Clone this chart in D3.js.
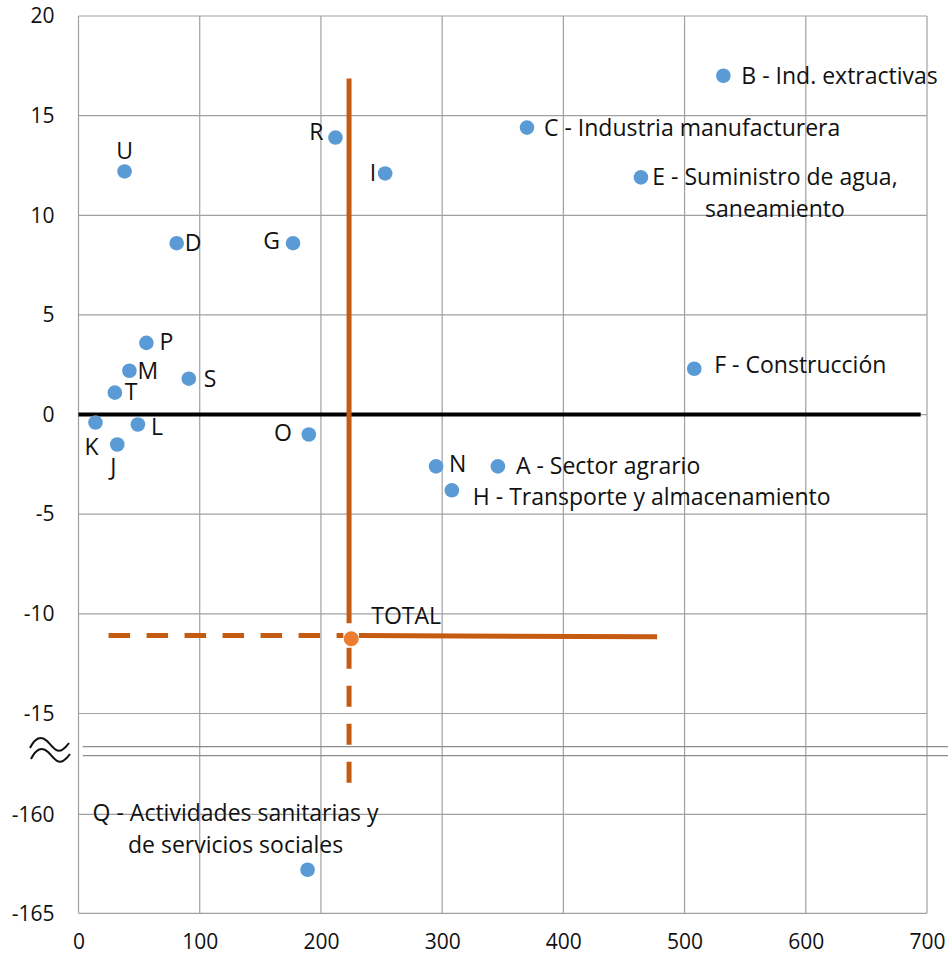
<!DOCTYPE html>
<html>
<head>
<meta charset="utf-8">
<title>Sectores - dispersión</title>
<style>
  body { margin: 0; background: #fff; }
  svg text { font-family: "Open Sans", Lato, sans-serif; fill: #111; }
  .tick text { font-size: 21px; }
  .lbl { font-size: 23px; }
</style>
</head>
<body>
<svg id="chart"></svg>
<script src="https://cdn.jsdelivr.net/npm/d3@7/dist/d3.min.js"></script>
<script>
// sector data (x, y)
var codes = ["A","B","C","D","E","F","G","H","I","J","K","L","M","N","O","P","Q","R","S","T","U"];
var names = [
  ["A - Sector agrario"],
  ["B - Ind. extractivas"],
  ["C - Industria manufacturera"],
  ["D"],
  ["E - Suministro de agua,", "saneamiento"],
  ["F - Construcción"],
  ["G"],
  ["H - Transporte y almacenamiento"],
  ["I"], ["J"], ["K"], ["L"], ["M"], ["N"], ["O"], ["P"],
  ["Q - Actividades sanitarias y", "de servicios sociales"],
  ["R"], ["S"], ["T"], ["U"]
];
var xVals = [346, 532, 370, 81, 464, 508, 177, 308, 253, 32, 14, 49, 42, 295, 190, 56, 189, 212, 91, 30, 38];
var yVals = [-2.6, 17.0, 14.4, 8.6, 11.9, 2.3, 8.6, -3.8, 12.1, -1.5, -0.4, -0.5, 2.2, -2.6, -1.0, 3.6, -162.8, 13.9, 1.8, 1.1, 12.2];

var totalX = 225, totalY = -11.25;
// average reference lines
var avgX = 223.2, avgY = -11.09;

var xTicks = [0, 100, 200, 300, 400, 500, 600, 700];
var yTicksTop = [20, 15, 10, 5, 0, -5, -10, -15];
var yTicksBottom = [-160, -165];

// label placement (dx, dy in px, anchor) - style only
var place = {
  A: [18, 0, "start"], B: [18, 0, "start"], C: [17, 0, "start"], D: [8, 0, "start"],
  E: [134, 0, "middle"], F: [20, -4, "start"], G: [-13, -2, "end"], H: [21, 7, "start"],
  I: [-9, 0, "end"], J: [-4, 22, "middle"], K: [3, 24, "end"], L: [13, 2, "start"],
  M: [8, 0, "start"], N: [13, -2, "start"], O: [-17, -2, "end"], P: [13, -1, "start"],
  Q: [-72, -57, "middle"], R: [-12, -6, "end"], S: [15, 0, "start"], T: [10, -1, "start"],
  U: [0, -20, "middle"]
};

var W = 948, H = 962;
var plotL = 78.5, plotR = 927, plotT = 16;
var breakA = 746.7, breakB = 755.7, plotB = 913.3;

var svg = d3.select("#chart").attr("width", W).attr("height", H);

var x = d3.scaleLinear().domain([0, 700]).range([plotL, plotR]);
var yTop = d3.scaleLinear().domain([20, -15]).range([plotT, 713.5]);
var yBot = d3.scaleLinear().domain([-160, -165]).range([814.3, plotB]);
function yy(v) { return v < -100 ? yBot(v) : yTop(v); }

var grid = svg.append("g").attr("stroke", "#a0a0a0").attr("stroke-width", 1.2);

// vertical gridlines
grid.selectAll(".vg").data(xTicks).enter().append("line")
  .attr("x1", d => x(d)).attr("x2", d => x(d))
  .attr("y1", plotT).attr("y2", plotB);

// horizontal gridlines
grid.selectAll(".hg").data(yTicksTop).enter().append("line")
  .attr("x1", plotL).attr("x2", plotR)
  .attr("y1", d => yTop(d)).attr("y2", d => yTop(d));
grid.selectAll(".hgb").data(yTicksBottom).enter().append("line")
  .attr("x1", plotL).attr("x2", plotR)
  .attr("y1", d => yBot(d)).attr("y2", d => yBot(d));

// axis break
svg.append("g").attr("stroke", "#8c8c8c").attr("stroke-width", 1.3)
  .selectAll("line").data([breakA, breakB]).enter().append("line")
  .attr("x1", 82.7).attr("x2", W).attr("y1", d => d).attr("y2", d => d);

var squig = svg.append("g").attr("fill", "none").attr("stroke", "#111").attr("stroke-width", 2);
squig.append("path").attr("d", "M30,748 C35,738 41,735 47,741 C52,746 56,753 62,750 C65,748 67,746 69,743");
squig.append("path").attr("d", "M31,759 C36,749 42,746 48,752 C53,757 57,764 63,761 C66,759 68,757 70,754");

// axes (labels only)
var fmt = d => String(d);
var yAxisTop = d3.axisLeft(yTop).tickValues(yTicksTop).tickFormat(fmt).tickSize(0).tickPadding(24);
var yAxisBot = d3.axisLeft(yBot).tickValues(yTicksBottom).tickFormat(fmt).tickSize(0).tickPadding(24);
var xAxis = d3.axisBottom(x).tickValues(xTicks).tickFormat(fmt).tickSize(0).tickPadding(21);

[svg.append("g").attr("transform", "translate(" + plotL + ",0)").call(yAxisTop),
 svg.append("g").attr("transform", "translate(" + plotL + ",0)").call(yAxisBot),
 svg.append("g").attr("transform", "translate(0," + plotB + ")").call(xAxis)]
  .forEach(g => { g.select(".domain").remove(); g.selectAll("text").attr("fill", "#111"); });

// zero line
svg.append("line")
  .attr("x1", plotL).attr("x2", 920.7)
  .attr("y1", yTop(0)).attr("y2", yTop(0))
  .attr("stroke", "#000").attr("stroke-width", 4);

// reference lines through TOTAL
var orange = "#c55a11";
var ref = svg.append("g").attr("stroke", orange).attr("stroke-width", 5).attr("fill", "none");
ref.append("line")
  .attr("x1", x(avgX)).attr("x2", x(avgX))
  .attr("y1", yTop(16.86)).attr("y2", yTop(-10.47));
ref.append("line")
  .attr("x1", x(avgX)).attr("x2", x(avgX))
  .attr("y1", yTop(-11.7)).attr("y2", yBot(-158.42))
  .attr("stroke-dasharray", "21,17");
ref.append("line")
  .attr("x1", x(24.8)).attr("x2", x(218.5))
  .attr("y1", yTop(avgY)).attr("y2", yTop(avgY))
  .attr("stroke-dasharray", "21.5,16.5");
ref.append("line")
  .attr("x1", x(231.4)).attr("x2", x(477.3))
  .attr("y1", yTop(avgY)).attr("y2", yTop(-11.15));

// points
var pts = codes.map((c, i) => ({ code: c, name: names[i], x: xVals[i], y: yVals[i] }));

svg.append("g").selectAll("circle").data(pts).enter().append("circle")
  .attr("cx", d => x(d.x)).attr("cy", d => yy(d.y))
  .attr("r", 7.3).attr("fill", "#5b9bd5");

svg.append("circle")
  .attr("cx", x(totalX)).attr("cy", yTop(totalY))
  .attr("r", 7.5).attr("fill", "#ed7d31");

// labels
var lbl = svg.append("g").selectAll("text").data(pts).enter().append("text")
  .attr("class", "lbl")
  .attr("x", d => x(d.x) + place[d.code][0])
  .attr("y", d => yy(d.y) + place[d.code][1])
  .attr("text-anchor", d => place[d.code][2]);
lbl.selectAll("tspan").data(d => d.name.map(s => ({ s: s, d: d }))).enter().append("tspan")
  .attr("x", t => x(t.d.x) + place[t.d.code][0])
  .attr("dy", (t, i) => i === 0 ? "0.35em" : "32px")
  .text(t => t.s);

svg.append("text").attr("class", "lbl")
  .attr("x", x(totalX) + 20).attr("y", yTop(totalY) - 23).attr("dy", "0.35em")
  .text("TOTAL");
</script>
</body>
</html>
